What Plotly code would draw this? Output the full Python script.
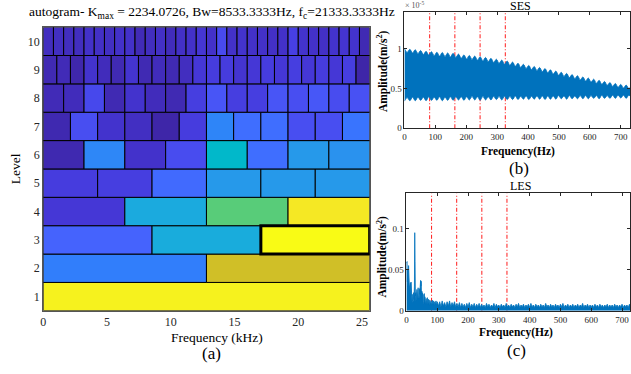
import numpy as np
import plotly.graph_objects as go

W, H = 631, 374

# ---------------- data ----------------
K_MAX = 2234.0726
F_NYQ_KHZ = 25.6
BW_HZ = 8533.3333
FC_HZ = 21333.3333
levels = [1, 2, 3, 4, 5, 6, 7, 8, 9, 10]
kurt_l1 = [0.975]
kurt_l2 = [0.26, 0.76]
kurt_l3 = [0.19, 0.41, 1.00]
kurt_l4 = [0.065, 0.40, 0.62, 0.95]
kurt_l5 = [0.08, 0.085, 0.21, 0.34, 0.34, 0.34]
kurt_l6 = [0.01, 0.285, 0.048, 0.125, 0.46, 0.22, 0.34, 0.32]
kurt_l7 = [0.01, 0.13, 0.05, 0.035, 0.0, 0.08, 0.28, 0.22, 0.22, 0.13, 0.13, 0.235]
kurt_l8 = [0.02, 0.025, 0.115, 0.015, 0.05, 0.025, 0.015, 0.085, 0.15, 0.085,
           0.085, 0.15, 0.13, 0.155, 0.125, 0.14]
kurt_l9 = [0.015, 0.02, 0.005, 0.05, 0.025, 0.015, 0.055, 0.015, 0.025, 0.015,
           0.03, 0.065, 0.078, 0.078, 0.055, 0.065, 0.08, 0.065, 0.085, 0.065,
           0.08, 0.065, 0.085, 0.0]
kurt_l10 = [0.03, 0.035, 0.03, 0.03, 0.045, 0.04, 0.035, 0.045, 0.045, 0.02,
            0.03, 0.04, 0.025, 0.04, 0.045, 0.06, 0.045, 0.12, 0.045, 0.05,
            0.045, 0.045, 0.04, 0.045, 0.09, 0.05, 0.045, 0.04, 0.05, 0.055,
            0.05, 0.015]
kurt_levels = [kurt_l1, kurt_l2, kurt_l3, kurt_l4, kurt_l5,
               kurt_l6, kurt_l7, kurt_l8, kurt_l9, kurt_l10]
best_level, best_band = 3, 2   # 0-based band index of the selected band

fault_freqs = [81.6, 163.2, 244.8, 326.4]

# SES (x 1e-5 m/s^2): envelope of the dense spectrum, step 8.75 Hz
ses_step = 8.75
ses_upper_peaks = [1.00, 0.99, 0.985, 0.975, 0.965, 0.96, 0.953, 0.95, 0.945, 0.94,
                   0.93, 0.92, 0.913, 0.905, 0.897, 0.888, 0.877, 0.866, 0.855, 0.843,
                   0.83, 0.816, 0.802, 0.788, 0.775, 0.762, 0.748, 0.733, 0.717, 0.702,
                   0.688, 0.673, 0.659, 0.644, 0.63, 0.616, 0.601, 0.587, 0.573, 0.561,
                   0.55, 0.541, 0.533]
ses_upper_notches = [0.95, 0.945, 0.935, 0.925, 0.918, 0.91, 0.905, 0.90, 0.895, 0.888,
                     0.878, 0.87, 0.862, 0.854, 0.845, 0.836, 0.825, 0.814, 0.803, 0.79,
                     0.777, 0.763, 0.75, 0.736, 0.723, 0.71, 0.695, 0.68, 0.665, 0.65,
                     0.636, 0.622, 0.607, 0.593, 0.58, 0.565, 0.551, 0.538, 0.525, 0.514,
                     0.505, 0.497]
ses_lower_peaks = [0.34, 0.345, 0.345, 0.35, 0.345, 0.35, 0.35, 0.345, 0.35, 0.35,
                   0.355, 0.35, 0.355, 0.355, 0.35, 0.355, 0.355, 0.36, 0.355, 0.36,
                   0.36, 0.36, 0.365, 0.36, 0.365, 0.365, 0.36, 0.365, 0.365, 0.37,
                   0.365, 0.37, 0.37, 0.37, 0.37, 0.375, 0.37, 0.375, 0.375, 0.375,
                   0.38, 0.375, 0.38]
ses_lower_notches = [0.385, 0.39, 0.39, 0.39, 0.395, 0.39, 0.395, 0.39, 0.395, 0.395,
                     0.395, 0.395, 0.4, 0.395, 0.4, 0.395, 0.4, 0.4, 0.4, 0.4,
                     0.405, 0.4, 0.405, 0.4, 0.405, 0.405, 0.405, 0.405, 0.41, 0.405,
                     0.41, 0.405, 0.41, 0.41, 0.41, 0.41, 0.415, 0.41, 0.415, 0.415,
                     0.415, 0.415]

# LES (m/s^2)
les_f_low = list(range(0, 61))
les_a_low = [0.058, 0.040, 0.060, 0.035, 0.050, 0.030, 0.045, 0.055, 0.030, 0.054,
             0.025, 0.030, 0.020, 0.034, 0.018, 0.035, 0.015, 0.028, 0.012, 0.020,
             0.010, 0.018, 0.012, 0.022, 0.014, 0.020, 0.030, 0.095, 0.060, 0.018,
             0.022, 0.012, 0.020, 0.014, 0.026, 0.015, 0.027, 0.016, 0.028, 0.018,
             0.026, 0.015, 0.027, 0.020, 0.032, 0.024, 0.037, 0.030, 0.036, 0.018,
             0.024, 0.012, 0.022, 0.010, 0.020, 0.011, 0.018, 0.009, 0.021, 0.010,
             0.017]
les_f_mid = list(range(62, 101, 2))
les_a_mid = [0.008, 0.015, 0.009, 0.016, 0.008, 0.014, 0.007, 0.013, 0.008, 0.012,
             0.007, 0.013, 0.008, 0.012, 0.007, 0.011, 0.008, 0.012, 0.007, 0.011]
les_f_high = list(range(104, 729, 4))
les_a_high = [0.006, 0.011, 0.005, 0.012, 0.006, 0.010, 0.005, 0.011, 0.006, 0.012,
              0.005, 0.010, 0.006, 0.011, 0.005,
              0.009, 0.005, 0.010, 0.004, 0.009, 0.005, 0.008, 0.004, 0.009, 0.005,
              0.010, 0.004, 0.008, 0.005, 0.009, 0.004, 0.008, 0.005, 0.009, 0.004,
              0.008, 0.005, 0.007, 0.004, 0.009, 0.005, 0.008, 0.004, 0.007, 0.005,
              0.009, 0.004, 0.008, 0.005, 0.007,
              0.004, 0.008, 0.005, 0.007, 0.004, 0.009, 0.005, 0.007, 0.004, 0.008,
              0.005, 0.007, 0.004, 0.008, 0.005, 0.009, 0.004, 0.007, 0.005, 0.008,
              0.004, 0.007, 0.005, 0.008, 0.004, 0.009, 0.005, 0.007, 0.004, 0.008,
              0.005, 0.007, 0.004, 0.008, 0.005, 0.007, 0.004, 0.009, 0.005, 0.007,
              0.004, 0.008, 0.005, 0.007, 0.004, 0.008, 0.005, 0.007, 0.004, 0.008,
              0.005, 0.009, 0.004, 0.007, 0.005, 0.008, 0.004, 0.007, 0.005, 0.008,
              0.004, 0.007, 0.005, 0.008, 0.004, 0.007, 0.005, 0.009, 0.004, 0.007,
              0.005, 0.008, 0.004, 0.007, 0.005, 0.007, 0.004, 0.008, 0.005, 0.007,
              0.004, 0.008, 0.005, 0.007, 0.004, 0.007, 0.005, 0.008, 0.004, 0.007,
              0.005, 0.007, 0.004, 0.008, 0.005, 0.007, 0.004, 0.007, 0.005, 0.008,
              0.004, 0.007, 0.005, 0.007, 0.004, 0.008, 0.005]

# ---------------- styles ----------------
PARULA = [
    [0.2422, 0.1504, 0.6603], [0.2504, 0.1650, 0.7076], [0.2578, 0.1818, 0.7511], [0.2647, 0.1978, 0.7952],
    [0.2706, 0.2147, 0.8364], [0.2751, 0.2342, 0.8710], [0.2783, 0.2559, 0.8991], [0.2803, 0.2782, 0.9221],
    [0.2813, 0.3006, 0.9414], [0.2810, 0.3228, 0.9579], [0.2795, 0.3447, 0.9717], [0.2760, 0.3667, 0.9829],
    [0.2699, 0.3892, 0.9906], [0.2602, 0.4123, 0.9952], [0.2440, 0.4358, 0.9988], [0.2206, 0.4603, 0.9973],
    [0.1963, 0.4847, 0.9892], [0.1834, 0.5074, 0.9798], [0.1786, 0.5289, 0.9682], [0.1764, 0.5499, 0.9520],
    [0.1687, 0.5703, 0.9359], [0.1540, 0.5902, 0.9218], [0.1460, 0.6091, 0.9079], [0.1380, 0.6276, 0.8973],
    [0.1248, 0.6459, 0.8883], [0.1113, 0.6635, 0.8763], [0.0952, 0.6798, 0.8598], [0.0689, 0.6948, 0.8394],
    [0.0297, 0.7082, 0.8163], [0.0036, 0.7203, 0.7917], [0.0067, 0.7312, 0.7660], [0.0433, 0.7411, 0.7394],
    [0.0964, 0.7500, 0.7120], [0.1408, 0.7584, 0.6842], [0.1717, 0.7670, 0.6554], [0.1938, 0.7758, 0.6251],
    [0.2161, 0.7843, 0.5923], [0.2470, 0.7918, 0.5567], [0.2906, 0.7973, 0.5188], [0.3406, 0.8008, 0.4789],
    [0.3909, 0.8029, 0.4354], [0.4456, 0.8024, 0.3909], [0.5044, 0.7993, 0.3480], [0.5616, 0.7942, 0.3045],
    [0.6174, 0.7876, 0.2612], [0.6720, 0.7793, 0.2227], [0.7242, 0.7698, 0.1910], [0.7738, 0.7598, 0.1646],
    [0.8203, 0.7498, 0.1535], [0.8634, 0.7406, 0.1596], [0.9035, 0.7330, 0.1774], [0.9393, 0.7288, 0.2100],
    [0.9728, 0.7298, 0.2394], [0.9956, 0.7434, 0.2371], [0.9970, 0.7659, 0.2199], [0.9952, 0.7893, 0.2028],
    [0.9892, 0.8136, 0.1885], [0.9786, 0.8386, 0.1766], [0.9676, 0.8639, 0.1643], [0.9610, 0.8890, 0.1537],
    [0.9597, 0.9135, 0.1423], [0.9628, 0.9373, 0.1265], [0.9691, 0.9606, 0.1064], [0.9769, 0.9839, 0.0805]]
parula_scale = [[i / (len(PARULA) - 1),
                 "rgb(%d,%d,%d)" % tuple(round(c * 255) for c in rgb)]
                for i, rgb in enumerate(PARULA)]

FONT = "Liberation Serif"
AX = "#262626"
BLUE = "#0072BD"
RED_DASH = "4px,2px,1px,2px"

def px_x(x):
    return x / W

def px_y(y):
    return 1 - y / H

fig = go.Figure()

# ---------------- (a) autogram ----------------
bar_y, bar_x, bar_base, bar_c = [], [], [], []
for lev, vals in zip(levels, kurt_levels):
    n = len(vals)
    width = F_NYQ_KHZ / n
    for i, v in enumerate(vals):
        bar_y.append(lev)
        bar_x.append(width)
        bar_base.append(i * width)
        bar_c.append(v)

fig.add_trace(go.Bar(
    orientation="h", y=bar_y, x=bar_x, base=bar_base, width=1,
    marker=dict(color=bar_c, colorscale=parula_scale, cmin=0, cmax=1,
                line=dict(color="black", width=1)),
    xaxis="x", yaxis="y", showlegend=False, hoverinfo="skip"))

sel_vals = kurt_levels[best_level - 1]
sel_w = F_NYQ_KHZ / len(sel_vals)
fig.add_trace(go.Bar(
    orientation="h", y=[best_level], x=[sel_w], base=[best_band * sel_w], width=1,
    marker=dict(color="rgba(0,0,0,0)", line=dict(color="black", width=3)),
    xaxis="x", yaxis="y", showlegend=False, hoverinfo="skip"))

# ---------------- (b) SES ----------------
ses_upper, ses_lower = [], []
for i in range(len(ses_upper_peaks)):
    ses_upper.append(ses_upper_peaks[i])
    ses_lower.append(ses_lower_peaks[i])
    if i < len(ses_upper_notches):
        ses_upper.append(ses_upper_notches[i])
        ses_lower.append(ses_lower_notches[i])
ses_f = [i * ses_step for i in range(len(ses_upper))]

SES_TOP = 1.46
LES_TOP = 0.1428
for f in fault_freqs:
    fig.add_trace(go.Scatter(x=[f, f], y=[0, SES_TOP], mode="lines",
                             line=dict(color="red", width=0.9, dash=RED_DASH),
                             xaxis="x2", yaxis="y2", showlegend=False, hoverinfo="skip"))
    fig.add_trace(go.Scatter(x=[f, f], y=[0, LES_TOP], mode="lines",
                             line=dict(color="red", width=0.9, dash=RED_DASH),
                             xaxis="x3", yaxis="y3", showlegend=False, hoverinfo="skip"))

fig.add_trace(go.Scatter(x=ses_f, y=ses_upper, mode="lines",
                         line=dict(color=BLUE, width=0.8, shape="spline"),
                         xaxis="x2", yaxis="y2", showlegend=False, hoverinfo="skip"))
fig.add_trace(go.Scatter(x=ses_f, y=ses_lower, mode="lines", fill="tonexty",
                         fillcolor=BLUE,
                         line=dict(color=BLUE, width=0.8, shape="spline"),
                         xaxis="x2", yaxis="y2", showlegend=False, hoverinfo="skip"))

# ---------------- (c) LES ----------------
les_f = les_f_low + les_f_mid + les_f_high
les_a = les_a_low + les_a_mid + les_a_high
fig.add_trace(go.Scatter(x=les_f, y=les_a, mode="lines", fill="tozeroy",
                         fillcolor=BLUE, line=dict(color=BLUE, width=0.8),
                         xaxis="x3", yaxis="y3", showlegend=False, hoverinfo="skip"))

# ---------------- layout ----------------
tick_small = dict(family=FONT, size=9, color=AX)
tick_big = dict(family=FONT, size=12, color=AX)

def right_axis(**kw):
    d = dict(showline=True, linecolor=AX, linewidth=1, mirror="ticks",
             ticks="inside", ticklen=3, tickcolor=AX, tickwidth=1,
             showgrid=False, zeroline=False, tickfont=tick_small)
    d.update(kw)
    return d

fig.update_layout(
    width=W, height=H, margin=dict(l=0, r=0, t=0, b=0),
    paper_bgcolor="white", plot_bgcolor="white", barmode="overlay",
    xaxis=dict(domain=[px_x(40.5), px_x(369)], range=[0, F_NYQ_KHZ],
               tickvals=[0, 5, 10, 15, 20, 25], showline=True, mirror=True,
               linecolor="#555", linewidth=1, ticks="", showgrid=False,
               zeroline=False, tickfont=tick_big, anchor="y"),
    yaxis=dict(domain=[px_y(315), px_y(27.5)], range=[0.5, 10.5],
               tickvals=levels, showline=True, mirror=True, linecolor="#555",
               linewidth=1, ticks="", showgrid=False, zeroline=False,
               tickfont=tick_big, anchor="x"),
    xaxis2=right_axis(domain=[px_x(404), 1], range=[0, (W - 404) / 0.311],
                      tickvals=list(range(0, 701, 100)), anchor="y2"),
    yaxis2=right_axis(domain=[px_y(130), px_y(12)], range=[0, SES_TOP],
                      tickvals=[0, 0.5, 1], ticktext=["0", "0.5", "1"], anchor="x2"),
    xaxis3=right_axis(domain=[px_x(406), 1], range=[0, (W - 406) / 0.31],
                      tickvals=list(range(0, 701, 100)), anchor="y3"),
    yaxis3=right_axis(domain=[px_y(315), px_y(196)], range=[0, LES_TOP],
                      tickvals=[0, 0.05, 0.1], ticktext=["0", "0.05", "0.1"], anchor="x3"),
)

def txt(x, y, s, size, color="black", angle=0, xanchor="center"):
    fig.add_annotation(x=px_x(x), y=px_y(y), xref="paper", yref="paper",
                       text=s, showarrow=False, textangle=angle,
                       xanchor=xanchor, yanchor="middle",
                       font=dict(family=FONT, size=size, color=color))

title = ("autogram- K<sub>max</sub> = %.4f, Bw=%.4fHz, f<sub>c</sub>=%.4fHz"
         % (K_MAX, BW_HZ, FC_HZ))
txt(210, 13, title, 13.5)
txt(12.5, 171, "Level", 13.5, angle=-90)
txt(215, 342, "Frequency (kHz)", 13.5)
txt(210, 358, "(a)", 17)

txt(521, 6.5, "SES", 12)
txt(403, 5.5, "× 10<sup>-5</sup>", 8, color="#555", xanchor="left")
txt(518.5, 154, "<b>Frequency(Hz)</b>", 11.5)
txt(519, 171, "(b)", 17)
txt(382, 72.5, "<b>Amplitude(m/s<sup>2</sup>)</b>", 11.5, angle=-90)

txt(521, 189, "LES", 12)
txt(516, 337, "<b>Frequency(Hz)</b>", 11.5)
txt(517, 355, "(c)", 17)
txt(381.5, 260, "<b>Amplitude(m/s<sup>2</sup>)</b>", 11.5, angle=-90)

fig.write_html("out.html")
